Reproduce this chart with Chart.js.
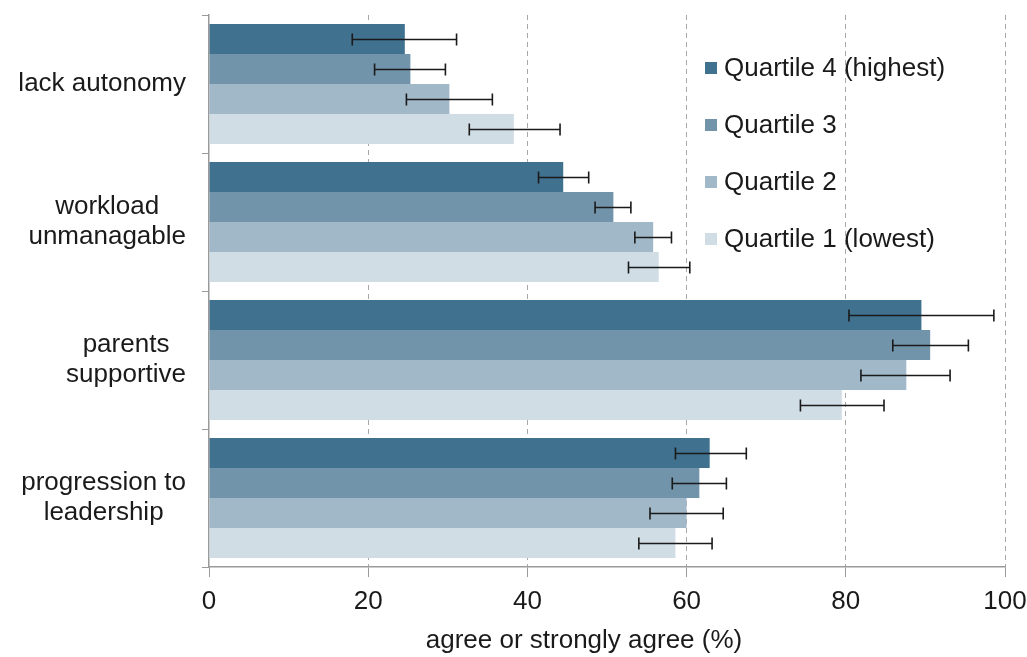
<!DOCTYPE html>
<html>
<head>
<meta charset="utf-8">
<script src="https://cdn.jsdelivr.net/npm/chart.js@4/dist/chart.umd.min.js"></script>
<style>
  html, body { margin: 0; padding: 0; background: #fff; }
  #wrap { width: 1027px; height: 657px; }
</style>
</head>
<body>
<div id="wrap"><canvas id="barChart"></canvas></div>
<script>
// kategori (baris) dan nama seri
const categories = ["lack autonomy", ["workload", "unmanagable"], ["parents", "supportive"], ["progression to", "leadership"]];
const seriesNames = ["Quartile 4 (highest)", "Quartile 3", "Quartile 2", "Quartile 1 (lowest)"];
const seriesColors = ["#40718f", "#7294ab", "#a1b8c8", "#d0dde5"];

// nilai batang
const q4 = [24.6, 44.5, 89.5, 62.9];
const q3 = [25.3, 50.8, 90.6, 61.6];
const q2 = [30.2, 55.8, 87.6, 60.0];
const q1 = [38.3, 56.5, 79.5, 58.6];

// batas error bar (bawah / atas)
const q4Low = [18.0, 41.4, 80.4, 58.6];
const q4High = [31.1, 47.7, 98.6, 67.5];
const q3Low = [20.8, 48.5, 85.9, 58.2];
const q3High = [29.7, 53.0, 95.4, 65.0];
const q2Low = [24.8, 53.5, 81.9, 55.4];
const q2High = [35.6, 58.1, 93.1, 64.6];
const q1Low = [32.7, 52.7, 74.3, 54.0];
const q1High = [44.1, 60.4, 84.8, 63.2];

const xTicks = [0, 20, 40, 60, 80, 100];
const xTitle = "agree or strongly agree (%)";

const FONT = "'Liberation Sans', Arial, sans-serif";
const TEXT = "#1a1a1a";

const values = [q4, q3, q2, q1];
const lows = [q4Low, q3Low, q2Low, q1Low];
const highs = [q4High, q3High, q2High, q1High];

const datasets = seriesNames.map((name, i) => ({
  label: name,
  data: values[i],
  low: lows[i],
  high: highs[i],
  backgroundColor: seriesColors[i],
  borderWidth: 0,
  barPercentage: 1.0,
  categoryPercentage: 0.87,
}));

// error bar
const errorBars = {
  id: "errorBars",
  afterDatasetsDraw(chart) {
    const ctx = chart.ctx;
    const xs = chart.scales.x;
    ctx.save();
    ctx.strokeStyle = "#1a1a1a";
    ctx.lineWidth = 1.6;
    chart.data.datasets.forEach((ds, di) => {
      const meta = chart.getDatasetMeta(di);
      meta.data.forEach((bar, i) => {
        const y = Math.round(bar.y) + 0.5;
        const a = xs.getPixelForValue(ds.low[i]);
        const b = xs.getPixelForValue(ds.high[i]);
        ctx.beginPath();
        ctx.moveTo(a, y); ctx.lineTo(b, y);
        ctx.moveTo(a, y - 6); ctx.lineTo(a, y + 6);
        ctx.moveTo(b, y - 6); ctx.lineTo(b, y + 6);
        ctx.stroke();
      });
    });
    ctx.restore();
  },
};

// label sumbu y, legenda dan judul sumbu x
const extraText = {
  id: "extraText",
  afterDraw(chart) {
    const ctx = chart.ctx;
    const ys = chart.scales.y;
    const xs = chart.scales.x;
    ctx.save();
    ctx.font = "26px " + FONT;
    ctx.fillStyle = TEXT;
    ctx.textBaseline = "middle";
    ctx.textAlign = "center";

    // label kategori: baris rata tengah, blok rata kanan
    const rightEdge = ys.right - 23;
    chart.data.labels.forEach((lab, i) => {
      const lines = Array.isArray(lab) ? lab : [lab];
      const w = Math.max(...lines.map((l) => ctx.measureText(l).width));
      const cx = rightEdge - w / 2;
      const cy = ys.getPixelForValue(i);
      const lh = 30;
      lines.forEach((l, k) => {
        ctx.fillText(l, cx, cy + (k - (lines.length - 1) / 2) * lh);
      });
    });

    // legenda di dalam area plot
    ctx.textAlign = "left";
    chart.data.datasets.forEach((ds, i) => {
      const y = 68 + i * 57;
      ctx.fillStyle = ds.backgroundColor;
      ctx.fillRect(705, y - 6, 12, 12);
      ctx.fillStyle = TEXT;
      ctx.fillText(ds.label, 724, y + 1);
    });

    // judul sumbu x
    ctx.textAlign = "center";
    ctx.fillText(xTitle, (xs.left + xs.right) / 2 - 23, 641);
    ctx.restore();
  },
};

new Chart(document.getElementById("barChart").getContext("2d"), {
  type: "bar",
  data: { labels: categories, datasets: datasets },
  plugins: [errorBars, extraText],
  options: {
    indexAxis: "y",
    responsive: true,
    maintainAspectRatio: false,
    animation: false,
    layout: { padding: { top: 15, right: 22, left: 0, bottom: 0 } },
    plugins: {
      legend: { display: false },
      tooltip: { enabled: false },
    },
    scales: {
      x: {
        min: 0,
        max: 100,
        afterBuildTicks: (scale) => {
          scale.ticks = xTicks.map((v) => ({ value: v }));
        },
        afterFit: (scale) => {
          scale.height = 90;
          scale.paddingRight = 0;
          scale.paddingLeft = 0;
        },
        ticks: {
          color: TEXT,
          font: { family: FONT, size: 26 },
          padding: 9,
        },
        grid: {
          color: (c) => (c.tick && c.tick.value === 0 ? "rgba(0,0,0,0)" : "#a8a8a8"),
          lineWidth: 1,
          tickLength: 10,
          tickColor: "#9a9a9a",
          tickBorderDash: [],
        },
        border: { display: true, color: "#9a9a9a", width: 1.5, dash: [5, 4] },
      },
      y: {
        afterFit: (scale) => { scale.width = 209; },
        ticks: { display: false },
        grid: {
          offset: true,
          drawOnChartArea: false,
          tickLength: 7,
          color: "#9a9a9a",
        },
        border: { display: true, color: "#9a9a9a", width: 1.5 },
      },
    },
  },
});
</script>
</body>
</html>
